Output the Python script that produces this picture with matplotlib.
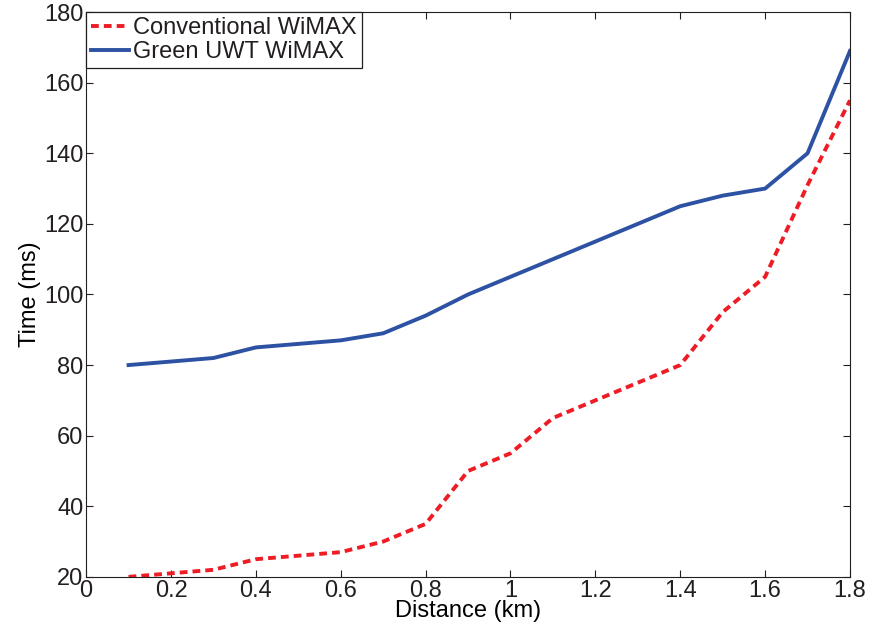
import matplotlib
matplotlib.use('Agg')
import matplotlib.pyplot as plt
import numpy as np

plt.rcParams['font.family'] = ['Liberation Sans', 'DejaVu Sans']
plt.rcParams['text.color'] = '#231f20'
plt.rcParams['xtick.color'] = '#231f20'
plt.rcParams['ytick.color'] = '#231f20'

distance = [0.1, 0.2, 0.3, 0.4, 0.5, 0.6, 0.7, 0.8, 0.9, 1.0,
            1.1, 1.2, 1.3, 1.4, 1.5, 1.6, 1.7, 1.8]
conventional = [20, 21, 22, 25, 26, 27, 30, 35, 50, 55,
                65, 70, 75, 80, 95, 105, 131, 155]
green_uwt = [80, 81, 82, 85, 86, 87, 89, 94, 100, 105,
             110, 115, 120, 125, 128, 130, 140, 169]

fig = plt.figure(figsize=(8.7, 6.36), dpi=100)
ax = fig.add_axes([0.099, 0.093, 0.878, 0.888])

ax.plot(distance, conventional, color='#ee1c25', lw=2.8, linestyle=(0, (2.0, 1.3)),
        label='Conventional WiMAX')
ax.plot(distance, green_uwt, color='#2d52a3', lw=2.8, label='Green UWT WiMAX')

ax.set_xlim(0, 1.8)
ax.set_ylim(20, 180)
ax.set_xticks(np.arange(0, 1.81, 0.2))
ax.set_xticklabels(['0', '0.2', '0.4', '0.6', '0.8', '1', '1.2', '1.4', '1.6', '1.8'])
ax.set_yticks(range(20, 181, 20))
ax.tick_params(direction='in', top=True, right=True, labelsize=17, length=5,
               width=0.8, pad=2)
ax.set_xlabel('Distance (km)', fontsize=17, labelpad=-1)
ax.set_ylabel('Time (ms)', fontsize=17, labelpad=2)
for s in ax.spines.values():
    s.set_color('#231f20')

leg = ax.legend(loc='upper left', fontsize=17, fancybox=False, edgecolor='#231f20',
                framealpha=1, borderaxespad=0, handlelength=1.6, handletextpad=0.2,
                borderpad=0.2, labelspacing=0.1)
leg.get_frame().set_linewidth(0.9)

fig.savefig('out.png', dpi=100)
